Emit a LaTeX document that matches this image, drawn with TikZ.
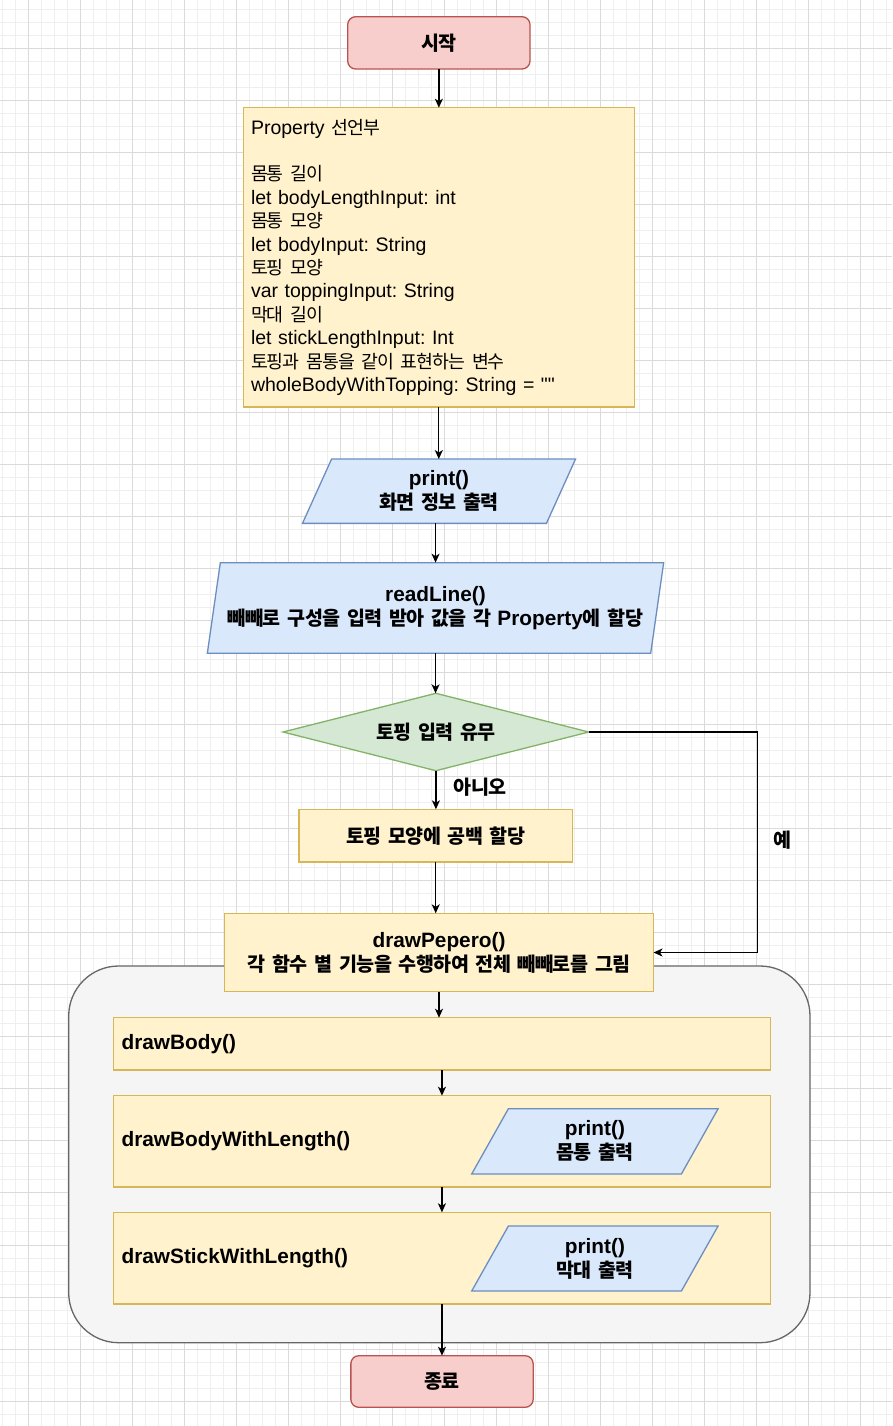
\documentclass[tikz,border=0pt]{standalone}
\usepackage{fontspec}
\setmainfont{Liberation Sans}[Ligatures=TeXOff]
\newfontfamily\krf[Scale=0.94,LetterSpace=-5,WordSpace=1.7]{Noto Sans CJK KR}
\newfontfamily\krb[Scale=0.94,LetterSpace=-2.7,WordSpace=1.7]{Noto Sans CJK KR}
\usetikzlibrary{shapes.geometric,arrows.meta}
\frenchspacing
\definecolor{redfill}{HTML}{F8CECC}
\definecolor{redline}{HTML}{B85450}
\definecolor{yelfill}{HTML}{FFF2CC}
\definecolor{yelline}{HTML}{D6B656}
\definecolor{blufill}{HTML}{DAE8FC}
\definecolor{bluline}{HTML}{6C8EBF}
\definecolor{grnfill}{HTML}{D5E8D4}
\definecolor{grnline}{HTML}{82B366}
\definecolor{grpfill}{HTML}{F5F5F5}
\definecolor{grpline}{HTML}{666666}
\definecolor{gridminor}{HTML}{EFEFEF}
\definecolor{gridmajor}{HTML}{DADADA}
\tikzset{
  base/.style={line width=1.3pt, inner sep=0pt, outer sep=0pt, align=center,
    font=\fontsize{20.8}{24}\selectfont\bfseries},
  regtext/.style={font=\fontsize{19.5}{23.4}\selectfont\frenchspacing},
  redbox/.style={base, rectangle, rounded corners=8pt, draw=redline, fill=redfill},
  yelbox/.style={base, rectangle, draw=yelline, fill=yelfill},
  leftbox/.style={yelbox, align=left, text width=640.7, inner xsep=8.3, minimum width=657.3},
  bluepar/.style={base, trapezium, trapezium stretches=true, draw=bluline, fill=blufill},
  greendia/.style={base, diamond, draw=grnline, fill=grnfill},
  grpbox/.style={line width=1.3pt, rectangle, rounded corners=50pt, draw=grpline, fill=grpfill, inner sep=0pt, outer sep=0pt},
  arr/.style={draw=black, line width=1.3pt, -{Stealth[length=9pt,width=8pt,inset=2.5pt]}},
  lbl/.style={font=\fontsize{20.8}{24}\selectfont\bfseries, inner sep=0pt},
  minorgrid/.style={draw=gridminor, line width=1pt},
  majorgrid/.style={draw=gridmajor, line width=1pt}
}
\begin{document}
\begin{tikzpicture}[x=1pt,y=-1pt]
\useasboundingbox (0,0) rectangle (892,1426);
\fill[white] (0,0) rectangle (892,1426);
% grid
\foreach \i in {-2,...,66} { \draw[minorgrid] ({28.3+13.0075*\i},0) -- ({28.3+13.0075*\i},1426); }
\foreach \i in {-3,...,105} { \draw[minorgrid] (0,{48.3+13.0075*\i}) -- (892,{48.3+13.0075*\i}); }
\foreach \i in {0,...,16} { \draw[majorgrid] ({28.3+52.03*\i},0) -- ({28.3+52.03*\i},1426); }
\foreach \i in {0,...,26} { \draw[majorgrid] (0,{48.3+52.03*\i}) -- (892,{48.3+52.03*\i}); }

% group container
\node[grpbox, minimum width=741.3, minimum height=376.7] (grp) at (439.35,1154.35) {};

% nodes
\node[redbox, minimum width=182.3, minimum height=52.3] (start) at (438.85,42.85) {\krb 시작};

\node[yelbox, regtext, align=left, text width=375.6, inner xsep=7.7, minimum width=391, minimum height=299.3] (prop) at (438.8,257.35)
{Property {\krf 선언부}\\
\mbox{}\\
{\krf 몸통 길이}\\
let bodyLengthInput: int\\
{\krf 몸통 모양}\\
let bodyInput: String\\
{\krf 토핑 모양}\\
var toppingInput: String\\
{\krf 막대 길이}\\
let stickLengthInput: Int\\
{\krf 토핑과 몸통을 같이 표현하는 변수}\\
wholeBodyWithTopping: String = ""};

\node[bluepar, minimum width=273.4, minimum height=64.3, trapezium left angle=68.4, trapezium right angle=111.6] (pr) at (439,491.2)
{print()\\{\krb 화면 정보 출력}};

\node[bluepar, minimum width=459, minimum height=90.6, trapezium left angle=73.9, trapezium right angle=106.1] (rl) at (435.5,608)
{readLine()\\{\krb 빼빼로 구성을 입력 받아 값을 각} Property{\krb 에 할당}};

\node[greendia, minimum width=305.7, minimum height=77.4, aspect=3.95] (dec) at (435.9,732) {\krb 토핑 입력 유무};

\node[yelbox, minimum width=273.6, minimum height=52.7] (tp) at (435.7,835.65) {\krb 토핑 모양에 공백 할당};

\node[yelbox, minimum width=429, minimum height=78.4] (pp) at (439,952.5)
{drawPepero()\\{\krb 각 함수 별 기능을 수행하여 전체 빼빼로를 그림}};

\node[leftbox, minimum height=52.3] (b1) at (441.95,1043.85) {drawBody()};
\node[leftbox, minimum height=91.3] (b2) at (441.95,1141.35) {drawBodyWithLength()};
\node[leftbox, minimum height=91.7] (b3) at (441.95,1258.15) {drawStickWithLength()};

\node[bluepar, minimum width=246.8, minimum height=65.3, trapezium left angle=68.1, trapezium right angle=111.9] (p2) at (594.9,1141.35)
{print()\\{\krb 몸통 출력}};
\node[bluepar, minimum width=246.8, minimum height=65, trapezium left angle=68.1, trapezium right angle=111.9] (p3) at (594.9,1258.5)
{print()\\{\krb 막대 출력}};

\node[redbox, minimum width=182.3, minimum height=51.6] (stop) at (442,1381.5) {\krb 종료};

% labels
\node[lbl] (nolbl) at (480,787.3) {\krb 아니오};
\node[lbl] (yeslbl) at (782.5,840) {\krb 예};
\coordinate (yx) at (757.5,0);

% connectors
\draw[arr] (start.south) -- (start.south |- prop.north);
\draw[arr] (prop.south) -- (prop.south |- pr.north);
\draw[arr] (rl.north |- pr.south) -- (rl.north);
\draw[arr] (rl.south) -- (rl.south |- dec.north);
\draw[arr] (dec.south) -- (dec.south |- tp.north);
\draw[arr] (tp.south) -- (tp.south |- pp.north);
\draw[arr] (dec.east) -- (dec.east -| yx) |- (pp.east);
\draw[arr] (pp.south) -- (pp.south |- b1.north);
\draw[arr] (b1.south) -- (b2.north);
\draw[arr] (b2.south) -- (b3.north);
\draw[arr] (b3.south) -- (b3.south |- stop.north);
\end{tikzpicture}
\end{document}
